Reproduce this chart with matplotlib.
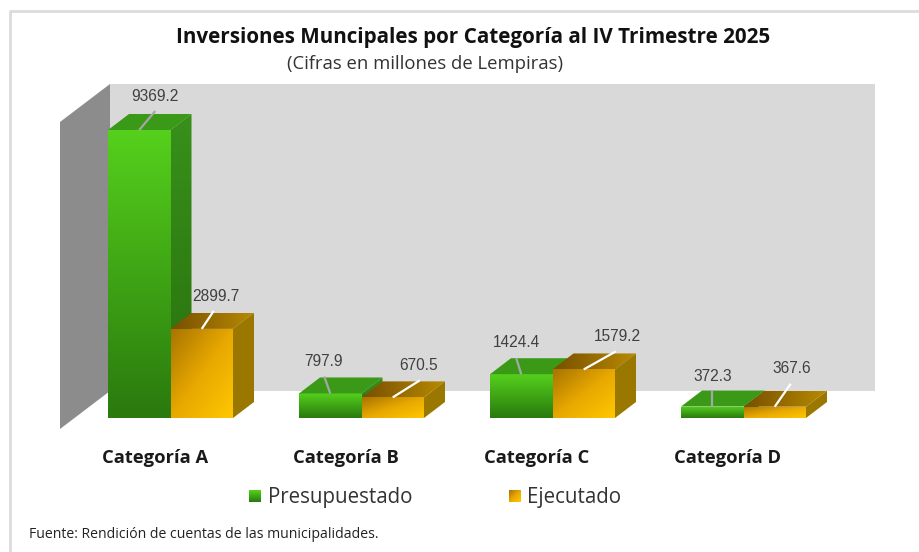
#!/usr/bin/env python3
"""Inversiones municipales por categoria - fake 3D column chart"""

import numpy as np
import matplotlib
matplotlib.use('Agg')
import matplotlib.pyplot as plt
from matplotlib.colors import LinearSegmentedColormap
from matplotlib.patches import Polygon, Rectangle

categories = ['Categoría A', 'Categoría B', 'Categoría C', 'Categoría D']
presupuestado = [9369.2, 797.9, 1424.4, 372.3]
ejecutado = [2899.7, 670.5, 1579.2, 367.6]

W, H = 919, 552
BASE_PX = 418          # pixel row of the value 0
PX_PER_UNIT = 0.03074  # vertical scale
GROUP_PX = 191         # distance between categories
X0_PX = 108            # left edge of first category

BAR_W = 62.5 / GROUP_PX
DX = 21 / GROUP_PX
DY = 16 / PX_PER_UNIT

# label centre and leader end, as pixel offsets from the middle of the bar's top edge
green_label = [(16, -33), (-7, -32), (-5, -32), (0, -30)]
orange_label = [(14, -32), (26, -32), (34, -33), (17, -38)]
green_leader = [(16, -19), (-6, -17), (-5, -16), (0, -17)]
orange_leader = [(12, -18), (27, -17), (32, -18), (16, -23)]


def xpx(p):
    return (p - X0_PX) / GROUP_PX


def ypx(p):
    return (BASE_PX - p) / PX_PER_UNIT


GREEN_FRONT = LinearSegmentedColormap.from_list('gf', ['#55d01c', '#3fa515', '#2a7a0e'])
GREEN_SIDE = LinearSegmentedColormap.from_list('gs', ['#38901a', '#28700e'])
ORANGE_FRONT = LinearSegmentedColormap.from_list('of', ['#a87400', '#e8a800', '#ffc800'])
ORANGE_TOP = LinearSegmentedColormap.from_list('ot', ['#785000', '#b88a00'])


def shade(ax, pts, data, cmap, z):
    # gradient image clipped to polygon
    xs = [p[0] for p in pts]
    ys = [p[1] for p in pts]
    poly = Polygon(pts, closed=True, facecolor='none', edgecolor='none', zorder=z)
    ax.add_patch(poly)
    im = ax.imshow(data, extent=(min(xs), max(xs), min(ys), max(ys)), origin='upper',
                   cmap=cmap, vmin=0, vmax=1, aspect='auto', interpolation='bilinear', zorder=z)
    im.set_clip_path(poly)


def draw_bar(ax, x, val, kind, z):
    x1 = x + BAR_W
    front = [(x, 0), (x1, 0), (x1, val), (x, val)]
    top = [(x, val), (x1, val), (x1 + DX, val + DY), (x + DX, val + DY)]
    side = [(x1, 0), (x1 + DX, DY), (x1 + DX, val + DY), (x1, val)]
    vert = np.linspace(0, 1, 64).reshape(-1, 1)
    if kind == 'green':
        shade(ax, front, vert, GREEN_FRONT, z)
        ax.add_patch(Polygon(top, closed=True, facecolor='#3a9a18', edgecolor='none', zorder=z))
        shade(ax, side, vert, GREEN_SIDE, z)
    else:
        u, v = np.meshgrid(np.linspace(0, 1, 64), np.linspace(0, 1, 64))
        shade(ax, front, (u + v) / 2, ORANGE_FRONT, z)
        shade(ax, top, np.linspace(0, 1, 64).reshape(1, -1), ORANGE_TOP, z)
        ax.add_patch(Polygon(side, closed=True, facecolor='#9a7800', edgecolor='none', zorder=z))


fig = plt.figure(figsize=(W / 100, H / 100), dpi=100, facecolor='white')
ax = fig.add_axes([0, 0, 1, 1])
ax.axis('off')

# chart frame
ax.plot([xpx(9.5), xpx(9.5), xpx(919)], [ypx(552), ypx(11.3), ypx(11.3)], color='#dcdcdc', lw=2, zorder=1)

# back wall and side wall
ax.add_patch(Rectangle((xpx(110), ypx(391)), xpx(875) - xpx(110), ypx(84) - ypx(391),
                       facecolor='#d9d9d9', edgecolor='none', zorder=1))
ax.add_patch(Polygon([(xpx(60), ypx(122)), (xpx(110), ypx(84)), (xpx(110), ypx(391)), (xpx(60), ypx(429))],
                     closed=True, facecolor='#8c8c8c', edgecolor='none', zorder=1))

for i in range(len(categories)):
    z = 3 + i
    draw_bar(ax, i, presupuestado[i], 'green', z)
    draw_bar(ax, i + BAR_W, ejecutado[i], 'orange', z + 0.1)

    for val, x, lab, lead, col in [
        (presupuestado[i], i, green_label[i], green_leader[i], '#a6a6a6'),
        (ejecutado[i], i + BAR_W, orange_label[i], orange_leader[i], 'white'),
    ]:
        cx = x + BAR_W / 2
        ax.plot([cx, cx + lead[0] / GROUP_PX], [val, val - lead[1] / PX_PER_UNIT],
                color=col, lw=1.6, zorder=10, solid_capstyle='butt')
        ax.text(cx + lab[0] / GROUP_PX, val - lab[1] / PX_PER_UNIT, f'{val:.1f}',
                family='Liberation Sans', fontsize=11.2, color='#404040', ha='center', va='center', zorder=11)

    ax.text(i + 47 / GROUP_PX, ypx(458), categories[i], family='Open Sans', fontweight='bold',
            fontsize=13.2, color='#1a1a1a', ha='center', va='center')

# title
ax.text(xpx(473), ypx(37), 'Inversiones Muncipales por Categoría al IV Trimestre 2025', family='Open Sans',
        fontweight='bold', fontsize=14.9, color='#111111', ha='center', va='center')
ax.text(xpx(425), ypx(64), '(Cifras en millones de Lempiras)', family='Open Sans',
        fontsize=13.3, color='#333333', ha='center', va='center')

# legend
leg_v = np.linspace(0, 1, 16).reshape(-1, 1)
shade(ax, [(xpx(249), ypx(502)), (xpx(261), ypx(502)), (xpx(261), ypx(490)), (xpx(249), ypx(490))],
      leg_v, GREEN_FRONT, 5)
u, v = np.meshgrid(np.linspace(0, 1, 16), np.linspace(0, 1, 16))
shade(ax, [(xpx(509), ypx(502)), (xpx(521), ypx(502)), (xpx(521), ypx(490)), (xpx(509), ypx(490))],
      (u + v) / 2, ORANGE_FRONT, 5)
ax.text(xpx(268), ypx(497), 'Presupuestado', family='Open Sans', fontsize=14.8, color='#333333', va='center')
ax.text(xpx(527), ypx(497), 'Ejecutado', family='Open Sans', fontsize=14.8, color='#333333', va='center')

# source
ax.text(xpx(29), ypx(535), 'Fuente: Rendición de cuentas de las municipalidades.', family='Open Sans',
        fontsize=10.1, color='#222222', va='center')

ax.set_xlim(xpx(0), xpx(W))
ax.set_ylim(ypx(H), ypx(0))

fig.savefig('out.png', dpi=100)
